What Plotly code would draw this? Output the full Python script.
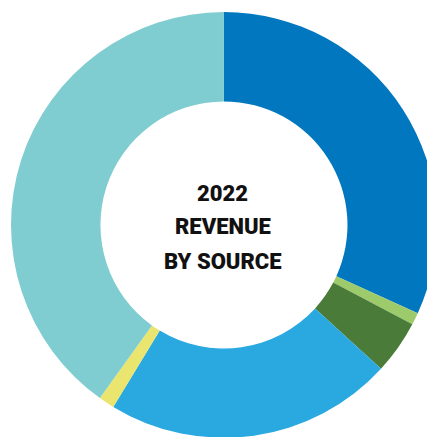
import plotly.graph_objects as go

sources = ["Source A", "Source B", "Source C", "Source D", "Source E", "Source F"]
shares = [31.8, 0.92, 4.08, 21.9, 1.2, 40.1]
colors = ["#0077BE", "#9DCB6B", "#4A7B39", "#2AA8E0", "#E9E56E", "#7FCDD0"]
center_lines = ["2022", "REVENUE", "BY SOURCE"]

fig = go.Figure(go.Pie(
    labels=sources,
    values=shares,
    marker=dict(colors=colors, line=dict(width=0)),
    hole=0.58,
    sort=False,
    direction="clockwise",
    rotation=0,
    textinfo="none",
    hoverinfo="label+percent",
    showlegend=False,
    domain=dict(x=[0.0069, 0.986], y=[0.016, 0.9908]),
))

ys = [0.5755, 0.499, 0.4199]
for txt, y in zip(center_lines, ys):
    fig.add_annotation(
        text=txt, x=0.494, y=y, xref="paper", yref="paper",
        showarrow=False, xanchor="center", yanchor="middle",
        font=dict(family="Roboto, Arial", size=22, color="#111111", weight=900),
    )

fig.update_layout(
    width=435, height=437,
    margin=dict(l=0, r=0, t=0, b=0),
    paper_bgcolor="white", plot_bgcolor="white",
)

fig.write_html("out.html")
